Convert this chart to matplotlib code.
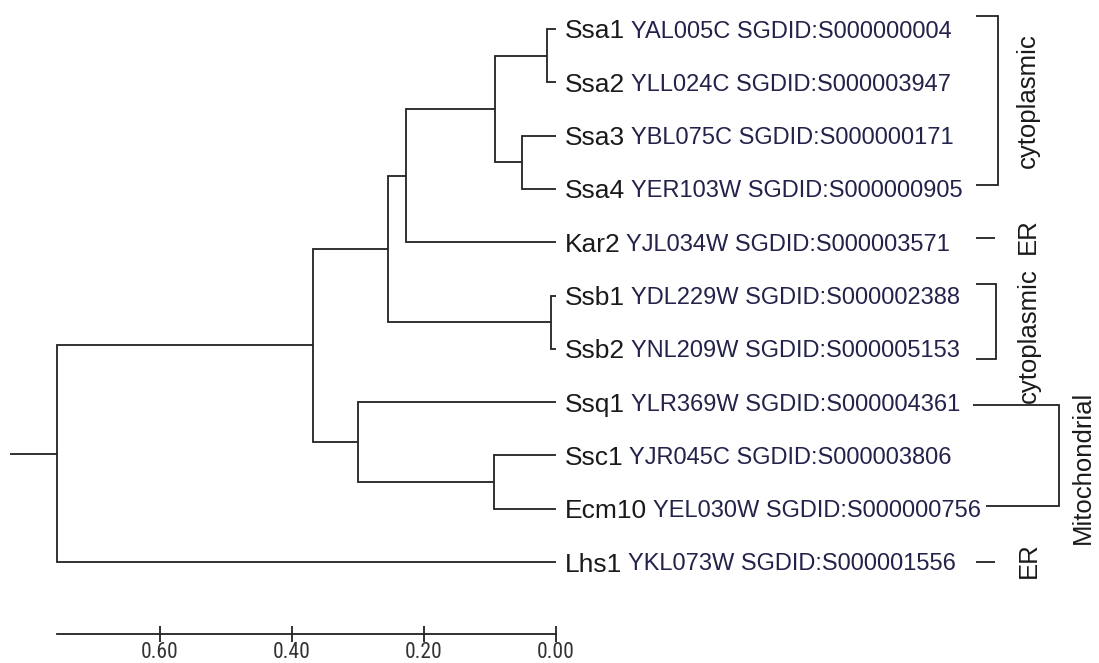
import matplotlib
matplotlib.use("Agg")
import matplotlib.pyplot as plt
from matplotlib import font_manager, transforms

# ---------------- data ----------------
leaf_names = ["Ssa1", "Ssa2", "Ssa3", "Ssa4", "Kar2", "Ssb1", "Ssb2",
              "Ssq1", "Ssc1", "Ecm10", "Lhs1"]
gene_ids = ["YAL005C SGDID:S000000004", "YLL024C SGDID:S000003947",
            "YBL075C SGDID:S000000171", "YER103W SGDID:S000000905",
            "YJL034W SGDID:S000003571", "YDL229W SGDID:S000002388",
            "YNL209W SGDID:S000005153", "YLR369W SGDID:S000004361",
            "YJR045C SGDID:S000003806", "YEL030W SGDID:S000000756",
            "YKL073W SGDID:S000001556"]
# merges (leaves are 0..10, internal nodes numbered from 11 in merge order)
merge_left = [0, 2, 11, 13, 5, 14, 8, 7, 16, 19]
merge_right = [1, 3, 12, 4, 6, 15, 9, 17, 18, 10]
merge_height = [0.013, 0.052, 0.093, 0.227, 0.008, 0.255, 0.094, 0.300, 0.368, 0.756]
root_stub = 0.071
axis_ticks = [0.60, 0.40, 0.20, 0.00]
axis_tick_labels = ["0.60", "0.40", "0.20", "0.00"]
group_labels = ["cytoplasmic", "ER", "cytoplasmic", "Mitochondrial", "ER"]
group_first = [0, 4, 5, 7, 10]
group_last = [3, 4, 6, 9, 10]

# ---------------- fonts ----------------
def pick(fams):
    for f in fams:
        try:
            font_manager.findfont(font_manager.FontProperties(family=f), fallback_to_default=False)
            return f
        except Exception:
            pass
    return "DejaVu Sans"

SANS = pick(["Liberation Sans", "Arial", "DejaVu Sans"])
NARROW = pick(["Liberation Sans Narrow", "Roboto Condensed", "DejaVu Sans"])

LINE_C = "#222222"
LW = 1.3

fig = plt.figure(figsize=(10.99, 6.63), dpi=100)
ax = fig.add_axes([0, 0, 1, 1])
ax.set_xlim(556 / 660, (556 - 1099) / 660)
ax.set_ylim((663 - 29) / 53.3, -29 / 53.3)

# ---------------- tree ----------------
pos = {i: (0.0, float(i)) for i in range(len(leaf_names))}
nid = len(leaf_names)
for a, b, h in zip(merge_left, merge_right, merge_height):
    xa, ya = pos[a]
    xb, yb = pos[b]
    ax.plot([xa, h, h, xb], [ya, ya, yb, yb], color=LINE_C, lw=LW,
            solid_joinstyle="miter", solid_capstyle="butt")
    pos[nid] = (h, (ya + yb) / 2)
    nid += 1
rx, ry = pos[nid - 1]
ax.plot([rx, rx + root_stub], [ry, ry], color=LINE_C, lw=LW, solid_capstyle="butt")

# ---------------- leaf labels ----------------
renderer = fig.canvas.get_renderer()
name_off = 6.6  # points
for i, (nm, gid) in enumerate(zip(leaf_names, gene_ids)):
    t = ax.annotate(nm, xy=(0, i), xycoords="data", xytext=(name_off, 0),
                    textcoords="offset points", ha="left", va="center_baseline",
                    fontsize=19.0, family=SANS, color="#1a1a1a")
    w = t.get_window_extent(renderer).width * 72 / fig.dpi
    ax.annotate(gid, xy=(0, i), xycoords="data", xytext=(name_off + w + 4.0, 0),
                textcoords="offset points", ha="left", va="center_baseline",
                fontsize=17.0, family=SANS, color="#22224a")

# ---------------- scale axis ----------------
for s in ["left", "right", "top"]:
    ax.spines[s].set_visible(False)
ax.yaxis.set_visible(False)
ax.spines["bottom"].set_position(("data", (634 - 29) / 53.3))
ax.spines["bottom"].set_bounds(0, merge_height[-1])
ax.spines["bottom"].set_color(LINE_C)
ax.spines["bottom"].set_linewidth(LW)
ax.set_xticks(axis_ticks)
ax.set_xticklabels(axis_tick_labels, family=NARROW, fontsize=15.5, color="#333333")
ax.tick_params(axis="x", direction="inout", length=11, width=LW, color=LINE_C, pad=0.5)

# ---------------- group brackets ----------------
fx = lambda px: px / 1099.0
tr = transforms.blended_transform_factory(fig.transFigure, ax.transData)

def bracket(y0, y1, x0a, x0b, x1):
    ax.plot([fx(x0a), fx(x1), fx(x1), fx(x0b)], [y0, y0, y1, y1], color=LINE_C, lw=LW,
            transform=tr, solid_joinstyle="miter", solid_capstyle="butt")

def dash(y, xa, xb):
    ax.plot([fx(xa), fx(xb)], [y, y], color=LINE_C, lw=LW, transform=tr, solid_capstyle="butt")

def glabel(txt, px, y):
    ax.text(fx(px), y, txt, transform=tr, rotation=90, ha="center", va="center",
            fontsize=18.5, family=SANS, color="#1a1a1a")

# cytoplasmic (Ssa)
g0a, g0b = group_first[0] - 0.25, group_last[0] - 0.08
bracket(g0a, g0b, 976, 976, 998)
glabel(group_labels[0], 1028, (g0a + g0b) / 2)
# ER (Kar2)
dash(group_first[1] - 0.08, 976, 995)
glabel(group_labels[1], 1028, group_first[1] - 0.12)
# cytoplasmic (Ssb)
g2a, g2b = group_first[2] - 0.22, group_last[2] + 0.19
bracket(g2a, g2b, 976, 976, 996)
glabel(group_labels[2], 1029, (g2a + g2b) / 2 + 0.26)
# Mitochondrial
g3a, g3b = group_first[3] + 0.05, group_last[3] - 0.05
bracket(g3a, g3b, 973, 986, 1059)
glabel(group_labels[3], 1083, (g3a + g3b) / 2 + 0.22)
# ER (Lhs1)
dash(group_first[4], 976, 995)
glabel(group_labels[4], 1029, group_first[4] - 0.04)

fig.savefig("out.png", dpi=100)
